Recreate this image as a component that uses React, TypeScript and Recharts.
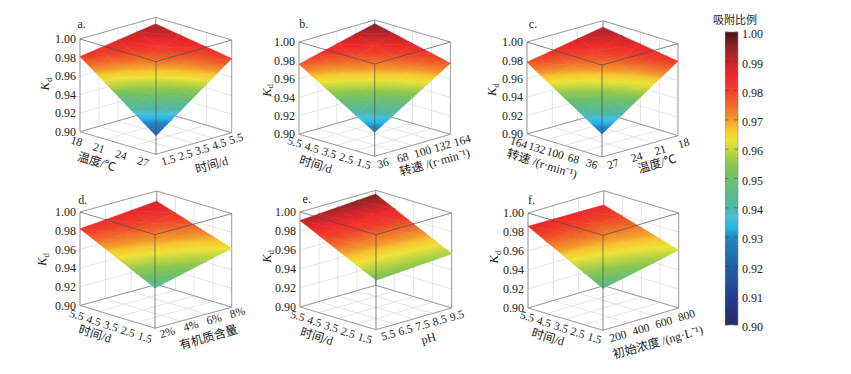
import { Bar, BarChart, Scatter, ScatterChart, XAxis, YAxis } from 'recharts';

// values
const kdTicks = [0.9, 0.92, 0.94, 0.96, 0.98, 1.0];
const barTicks = [0.9, 0.91, 0.92, 0.93, 0.94, 0.95, 0.96, 0.97, 0.98, 0.99, 1.0];
const barRange = [{ name: '吸附比例', range: [0.9, 1.0] }];

const timeUp = ['1.5', '2.5', '3.5', '4.5', '5.5'];
const timeDown = ['5.5', '4.5', '3.5', '2.5', '1.5'];
const tempUp = ['18', '21', '24', '27'];
const tempDown = ['27', '24', '21', '18'];
const speedUp = ['36', '68', '100', '132', '164'];
const speedDown = ['164', '132', '100', '68', '36'];
const organic = ['2%', '4%', '6%', '8%'];
const phLevels = ['5.5', '6.5', '7.5', '8.5', '9.5'];
const concLevels = ['200', '400', '600', '800'];

// surface Kd: one row per left axis tick, one column per right axis tick
const surfaceA = [
  [0.981, 0.984, 0.987, 0.99, 0.993],
  [0.9607, 0.9677, 0.9747, 0.9817, 0.9887],
  [0.9403, 0.9513, 0.9623, 0.9733, 0.9843],
  [0.92, 0.935, 0.95, 0.965, 0.98],
];
const surfaceB = [
  [0.976, 0.981, 0.986, 0.991, 0.996],
  [0.9635, 0.9705, 0.9774, 0.9843, 0.9913],
  [0.951, 0.9599, 0.9688, 0.9777, 0.9865],
  [0.9385, 0.9494, 0.9601, 0.971, 0.9818],
  [0.926, 0.9388, 0.9515, 0.9643, 0.977],
];
const surfaceC = [
  [0.978, 0.983, 0.988, 0.993],
  [0.9648, 0.9732, 0.9816, 0.99],
  [0.9515, 0.9634, 0.9752, 0.987],
  [0.9383, 0.9535, 0.9687, 0.984],
  [0.925, 0.9437, 0.9623, 0.981],
];
const surfaceD = [
  [0.982, 0.9843, 0.9867, 0.989],
  [0.9723, 0.9756, 0.9791, 0.9825],
  [0.9625, 0.967, 0.9715, 0.976],
  [0.9528, 0.9584, 0.9639, 0.9695],
  [0.943, 0.9497, 0.9563, 0.963],
];
const surfaceE = [
  [0.991, 0.9923, 0.9935, 0.9948, 0.996],
  [0.9813, 0.9826, 0.9838, 0.9851, 0.9863],
  [0.9715, 0.9728, 0.974, 0.9753, 0.9765],
  [0.9618, 0.9631, 0.9643, 0.9656, 0.9668],
  [0.952, 0.9533, 0.9545, 0.9558, 0.957],
];
const surfaceF = [
  [0.986, 0.9857, 0.9853, 0.985],
  [0.9755, 0.9767, 0.9778, 0.979],
  [0.965, 0.9677, 0.9703, 0.973],
  [0.9545, 0.9587, 0.9628, 0.967],
  [0.944, 0.9497, 0.9553, 0.961],
];

// colour scale of the bar on the right
const colorKd = [0.9, 0.905, 0.91, 0.92, 0.93, 0.933, 0.937, 0.94, 0.95, 0.955, 0.96, 0.963, 0.967, 0.97, 0.975, 0.98, 0.985, 0.99, 0.995, 1.0];
const colorHex = ['#2d2a62', '#25307c', '#213f95', '#2060a8', '#2585c0', '#22b5e8', '#4cbfd8', '#4cb8a8', '#6fbe6c', '#8cc84e', '#c8d840', '#eee338', '#f6c62f', '#f39a2c', '#f0692a', '#ee3f29', '#ee2a2b', '#c5242a', '#8c2326', '#4a1518'];

const FONT = '"Liberation Serif","Noto Sans CJK SC",serif';
const TEXT = '#222';
const EDGE = '#8c8c8c';
const GRID = '#dedede';

const panels = [
  {
    id: 'a', surface: surfaceA, leftTicks: tempUp, rightTicks: timeUp,
    L: [80, 131.7], F: [156, 154.3], R: [231.7, 132.7], height: 92.7,
    leftOff: [[-3.3, 9.3], [-12.7, 7.3]], rightOff: [[12.3, 5.7], [4.3, 5.7]],
    letter: [81.7, 24], kd: [45, 84],
    leftTitle: { text: '温度/℃', x: 96.7, y: 161.7 }, rightTitle: { text: '时间/d', x: 211.7, y: 165 },
  },
  {
    id: 'b', surface: surfaceB, leftTicks: timeDown, rightTicks: speedUp,
    L: [299.3, 134], F: [375, 156], R: [450.7, 134], height: 92.3,
    leftOff: [[-4.3, 7.7], [-11, 7.3]], rightOff: [[8.3, 6.7], [11.7, 6]],
    letter: [304, 23.3], kd: [266.7, 90],
    leftTitle: { text: '时间/d', x: 316, y: 164 }, rightTitle: { text: '转速 /(r·min⁻¹)', x: 435, y: 161.7 },
  },
  {
    id: 'c', surface: surfaceC, leftTicks: speedDown, rightTicks: tempDown,
    L: [526.7, 134.3], F: [601.7, 157.3], R: [677.7, 136], height: 92,
    leftOff: [[-8, 8.5], [-10, 6.7]], rightOff: [[11, 6.7], [5.7, 7.3]],
    letter: [532.7, 24], kd: [491.7, 90],
    leftTitle: { text: '转速 /(r·min⁻¹)', x: 541.7, y: 164 }, rightTitle: { text: '温度/℃', x: 656.7, y: 164 },
  },
  {
    id: 'd', surface: surfaceD, leftTicks: timeDown, rightTicks: organic,
    L: [80, 305], F: [155, 327.7], R: [231.7, 306.7], height: 93.5,
    leftOff: [[-3.3, 9.3], [-10, 9]], rightOff: [[12.3, 4], [5.7, 5]],
    letter: [82.7, 199], kd: [41.7, 259],
    leftTitle: { text: '时间/d', x: 95, y: 333.3 }, rightTitle: { text: '有机质含量', x: 208.3, y: 336.7 },
  },
  {
    id: 'e', surface: surfaceE, leftTicks: timeDown, rightTicks: phLevels,
    L: [300, 307.3], F: [376, 330], R: [451.7, 308.3], height: 95,
    leftOff: [[-2.3, 8.7], [-11, 8.3]], rightOff: [[12.3, 5], [5, 7.3]],
    letter: [306.7, 199.3], kd: [266.7, 256.7],
    leftTitle: { text: '时间/d', x: 316.7, y: 336.7 }, rightTitle: { text: 'pH', x: 428.3, y: 338.3 },
  },
  {
    id: 'f', surface: surfaceF, leftTicks: timeDown, rightTicks: concLevels,
    L: [528.3, 307.7], F: [603.3, 330], R: [679, 307.7], height: 95,
    leftOff: [[-0.7, 8.3], [-8.3, 7.7]], rightOff: [[15, 5.7], [7.7, 7.3]],
    letter: [531.7, 199.3], kd: [494, 256.7],
    leftTitle: { text: '时间/d', x: 548.3, y: 336.7 }, rightTitle: { text: '初始浓度 /(ng·L⁻¹)', x: 658.3, y: 341.7 },
  },
];

type Panel = (typeof panels)[number];
type Corner = { sx: number; sy: number; kd: number };

const hexToRgb = (hex: string) => [1, 3, 5].map((i) => parseInt(hex.slice(i, i + 2), 16));

function colorAt(kd: number) {
  if (kd <= colorKd[0]) return colorHex[0];
  for (let i = 1; i < colorKd.length; i++) {
    if (kd <= colorKd[i]) {
      const f = (kd - colorKd[i - 1]) / (colorKd[i] - colorKd[i - 1]);
      const a = hexToRgb(colorHex[i - 1]);
      const b = hexToRgb(colorHex[i]);
      return `rgb(${a.map((c, k) => Math.round(c + (b[k] - c) * f)).join(',')})`;
    }
  }
  return colorHex[colorHex.length - 1];
}

const noDot = () => <g />;

// flat triangle of the surface, the gradient runs along its steepest direction
function triangleFill(id: string, pts: { x: number; y: number }[], kds: number[]) {
  const lo = Math.min(...kds);
  const hi = Math.max(...kds);
  const d = `M${pts.map((p) => `${p.x},${p.y}`).join('L')}Z`;
  if (hi - lo < 1e-6) {
    const c = colorAt(lo);
    return <path d={d} fill={c} stroke={c} strokeWidth={0.6} />;
  }
  const e1 = [pts[1].x - pts[0].x, pts[1].y - pts[0].y];
  const e2 = [pts[2].x - pts[0].x, pts[2].y - pts[0].y];
  const dz1 = kds[1] - kds[0];
  const dz2 = kds[2] - kds[0];
  const det = e1[0] * e2[1] - e1[1] * e2[0];
  const gx = (dz1 * e2[1] - dz2 * e1[1]) / det;
  const gy = (e1[0] * dz2 - e2[0] * dz1) / det;
  const g2 = gx * gx + gy * gy;
  const start = pts[kds.indexOf(lo)];
  const span = hi - lo;
  const stops = [lo, ...colorKd.filter((k) => k > lo && k < hi), hi];
  return (
    <g>
      <defs>
        <linearGradient
          id={id}
          gradientUnits="userSpaceOnUse"
          x1={start.x}
          y1={start.y}
          x2={start.x + (gx * span) / g2}
          y2={start.y + (gy * span) / g2}
        >
          {stops.map((k) => (
            <stop key={k} offset={(k - lo) / span} stopColor={colorAt(k)} />
          ))}
        </linearGradient>
      </defs>
      <path d={d} fill={`url(#${id})`} stroke={`url(#${id})`} strokeWidth={0.6} />
    </g>
  );
}

function PanelChart({ panel }: { panel: Panel }) {
  const { id, surface, leftTicks, rightTicks, L, F, R, height } = panel;
  const k = 0.1 / height;
  const left = L[0] - 46;
  const top = L[1] - height - 38;
  const width = R[0] - left + 60;
  const chartHeight = F[1] + 40 - top;
  const kdAt = (pageY: number) => 0.9 + (L[1] - pageY) * k;

  // s runs along the left floor edge, t along the right one
  const project = (s: number, t: number, kd: number): Corner => {
    const floorY = L[1] + s * (F[1] - L[1]) + t * (R[1] - F[1]);
    return {
      sx: L[0] + s * (F[0] - L[0]) + t * (R[0] - F[0]),
      sy: kd + (L[1] - floorY) * k,
      kd,
    };
  };

  const segment = (key: string, a: Corner, b: Corner, stroke: string, width2 = 0.8, opacity = 1) => (
    <Scatter
      key={key}
      data={[a, b]}
      shape={noDot}
      line={{ stroke, strokeWidth: width2, strokeOpacity: opacity }}
      isAnimationActive={false}
    />
  );

  const rows = surface.length - 1;
  const cols = surface[0].length - 1;
  const rowS = leftTicks.map((_, i) => i / (leftTicks.length - 1));
  const colT = rightTicks.map((_, j) => j / (rightTicks.length - 1));

  const back: React.ReactNode[] = [];
  rowS.forEach((s, i) => {
    back.push(segment(`fs${i}`, project(s, 0, 0.9), project(s, 1, 0.9), GRID));
    back.push(segment(`ws${i}`, project(s, 1, 0.9), project(s, 1, 1), GRID));
  });
  colT.forEach((t, j) => {
    back.push(segment(`ft${j}`, project(0, t, 0.9), project(1, t, 0.9), GRID));
    back.push(segment(`wt${j}`, project(0, t, 0.9), project(0, t, 1), GRID));
  });
  kdTicks.forEach((z) => {
    back.push(segment(`zl${z}`, project(0, 0, z), project(0, 1, z), GRID));
    back.push(segment(`zr${z}`, project(0, 1, z), project(1, 1, z), GRID));
  });
  // back edges of the box
  back.push(segment('e1', project(0, 0, 0.9), project(0, 1, 0.9), EDGE));
  back.push(segment('e2', project(0, 1, 0.9), project(1, 1, 0.9), EDGE));
  back.push(segment('e3', project(0, 0, 1), project(0, 1, 1), EDGE));
  back.push(segment('e4', project(0, 1, 1), project(1, 1, 1), EDGE));
  back.push(segment('e5', project(0, 1, 0.9), project(0, 1, 1), EDGE));
  back.push(segment('e6', project(0, 0, 0.9), project(0, 0, 1), EDGE));
  back.push(segment('e7', project(1, 1, 0.9), project(1, 1, 1), EDGE));
  back.push(segment('e8', project(0, 0, 0.9), project(1, 0, 0.9), EDGE));
  back.push(segment('e9', project(1, 0, 0.9), project(1, 1, 0.9), EDGE));

  const triangles: React.ReactNode[] = [];
  for (let i = 0; i < rows; i++) {
    for (let j = 0; j < cols; j++) {
      const a = project(rowS[i], colT[j], surface[i][j]);
      const b = project(rowS[i + 1], colT[j], surface[i + 1][j]);
      const c = project(rowS[i + 1], colT[j + 1], surface[i + 1][j + 1]);
      const d = project(rowS[i], colT[j + 1], surface[i][j + 1]);
      [[a, b, c], [a, c, d]].forEach((tri, n) => {
        const gid = `tri-${id}-${i}-${j}-${n}`;
        triangles.push(
          <Scatter
            key={gid}
            data={tri}
            shape={noDot}
            line={(p: any) => triangleFill(gid, p.points, tri.map((v) => v.kd))}
            isAnimationActive={false}
          />,
        );
      });
    }
  }

  const front = [
    segment('f1', project(1, 0, 0.9), project(1, 0, 1), '#4d4d4d', 0.8, 0.85),
    segment('f2', project(0, 0, 1), project(1, 0, 1), '#4d4d4d', 0.8, 0.85),
    segment('f3', project(1, 0, 1), project(1, 1, 1), '#4d4d4d', 0.8, 0.85),
  ];

  const toPx = (x: number, y: number) => [x - left, y - top];
  const mix = (pair: number[][], f: number) => [
    pair[0][0] + (pair[1][0] - pair[0][0]) * f,
    pair[0][1] + (pair[1][1] - pair[0][1]) * f,
  ];
  const floorPage = (s: number, t: number) => [
    L[0] + s * (F[0] - L[0]) + t * (R[0] - F[0]),
    L[1] + s * (F[1] - L[1]) + t * (R[1] - F[1]),
  ];
  const slanted = (key: string, text: string, x: number, y: number, angle: number, size = 12) => {
    const [px, py] = toPx(x, y);
    return (
      <text
        key={key}
        x={px}
        y={py}
        dy="0.35em"
        textAnchor="middle"
        fontSize={size}
        fontFamily={FONT}
        fill={TEXT}
        transform={`rotate(${angle} ${px} ${py})`}
      >
        {text}
      </text>
    );
  };

  const [kdX, kdY] = toPx(panel.kd[0], panel.kd[1]);
  const [letterX, letterY] = toPx(panel.letter[0], panel.letter[1]);

  return (
    <div style={{ position: 'absolute', left, top, width, height: chartHeight }}>
      <ScatterChart width={width} height={chartHeight} margin={{ top: 0, right: 0, bottom: 0, left: 0 }}>
        <XAxis type="number" dataKey="sx" hide domain={[left + 1, left + width]} />
        <YAxis
          type="number"
          dataKey="sy"
          width={1}
          domain={[kdAt(top + chartHeight), kdAt(top)]}
          ticks={kdTicks}
          interval={0}
          axisLine={false}
          tickLine={false}
          tick={(p: any) => (
            <text x={42} y={p.y} dy="0.35em" textAnchor="end" fontSize={12} fontFamily={FONT} fill={TEXT}>
              {Number(p.payload.value).toFixed(2)}
            </text>
          )}
        />
        {back}
        {triangles}
        {front}
        {leftTicks.map((label, i) => {
          const s = rowS[i];
          const pos = floorPage(s, 0);
          const off = mix(panel.leftOff, s);
          return slanted(`lt${i}`, label, pos[0] + off[0], pos[1] + off[1], 17, 11.5);
        })}
        {rightTicks.map((label, j) => {
          const t = colT[j];
          const pos = floorPage(1, t);
          const off = mix(panel.rightOff, t);
          return slanted(`rt${j}`, label, pos[0] + off[0], pos[1] + off[1], -16, 11.5);
        })}
        {slanted('lTitle', panel.leftTitle.text, panel.leftTitle.x, panel.leftTitle.y, 17)}
        {slanted('rTitle', panel.rightTitle.text, panel.rightTitle.x, panel.rightTitle.y, -16)}
        <text
          x={kdX}
          y={kdY}
          dy="0.35em"
          textAnchor="middle"
          fontSize={12.5}
          fontFamily={FONT}
          fill={TEXT}
          transform={`rotate(-90 ${kdX} ${kdY})`}
        >
          <tspan fontStyle="italic">K</tspan>
          <tspan fontSize={9} dy={2.5}>d</tspan>
        </text>
        <text x={letterX} y={letterY} dy="0.35em" fontSize={12} fontFamily={FONT} fill={TEXT} textAnchor="middle">
          {`${id}.`}
        </text>
      </ScatterChart>
    </div>
  );
}

function ColorBar() {
  const topDown = colorKd.map((k, i) => ({ k, color: colorHex[i] })).reverse();
  return (
    <div style={{ position: 'absolute', left: 725, top: 22, width: 70, height: 313 }}>
      <BarChart
        width={70}
        height={313}
        data={barRange}
        barCategoryGap={0}
        margin={{ top: 10, right: 0, bottom: 10, left: 0 }}
      >
        <defs>
          <linearGradient id="colorbar" x1="0" y1="0" x2="0" y2="1">
            {topDown.map((s) => (
              <stop key={s.k} offset={(1 - s.k) / 0.1} stopColor={s.color} />
            ))}
          </linearGradient>
        </defs>
        <XAxis dataKey="name" hide />
        <YAxis
          orientation="right"
          type="number"
          width={57}
          domain={[0.9, 1]}
          ticks={barTicks}
          interval={0}
          axisLine={false}
          tickLine={false}
          tick={(p: any) => (
            <g>
              <line x1={0} x2={3.5} y1={p.y} y2={p.y} stroke="#333" strokeOpacity={0.55} strokeWidth={0.8} />
              <line x1={9.5} x2={13} y1={p.y} y2={p.y} stroke="#333" strokeOpacity={0.55} strokeWidth={0.8} />
              <text x={17} y={p.y + 2} dy="0.35em" textAnchor="start" fontSize={12} fontFamily={FONT} fill={TEXT}>
                {Number(p.payload.value).toFixed(2)}
              </text>
            </g>
          )}
        />
        <Bar dataKey="range" fill="url(#colorbar)" stroke="#8a8a8a" strokeWidth={0.6} isAnimationActive={false} />
      </BarChart>
    </div>
  );
}

export default function App() {
  return (
    <div style={{ position: 'absolute', left: 0, top: 0, width: 851, height: 374, background: '#fff', overflow: 'hidden' }}>
      {panels.map((panel) => (
        <PanelChart key={panel.id} panel={panel} />
      ))}
      <ColorBar />
      <div
        style={{
          position: 'absolute',
          left: 700,
          top: 12,
          width: 70,
          textAlign: 'center',
          fontFamily: FONT,
          fontSize: 11,
          color: TEXT,
          lineHeight: '16px',
        }}
      >
        吸附比例
      </div>
    </div>
  );
}
